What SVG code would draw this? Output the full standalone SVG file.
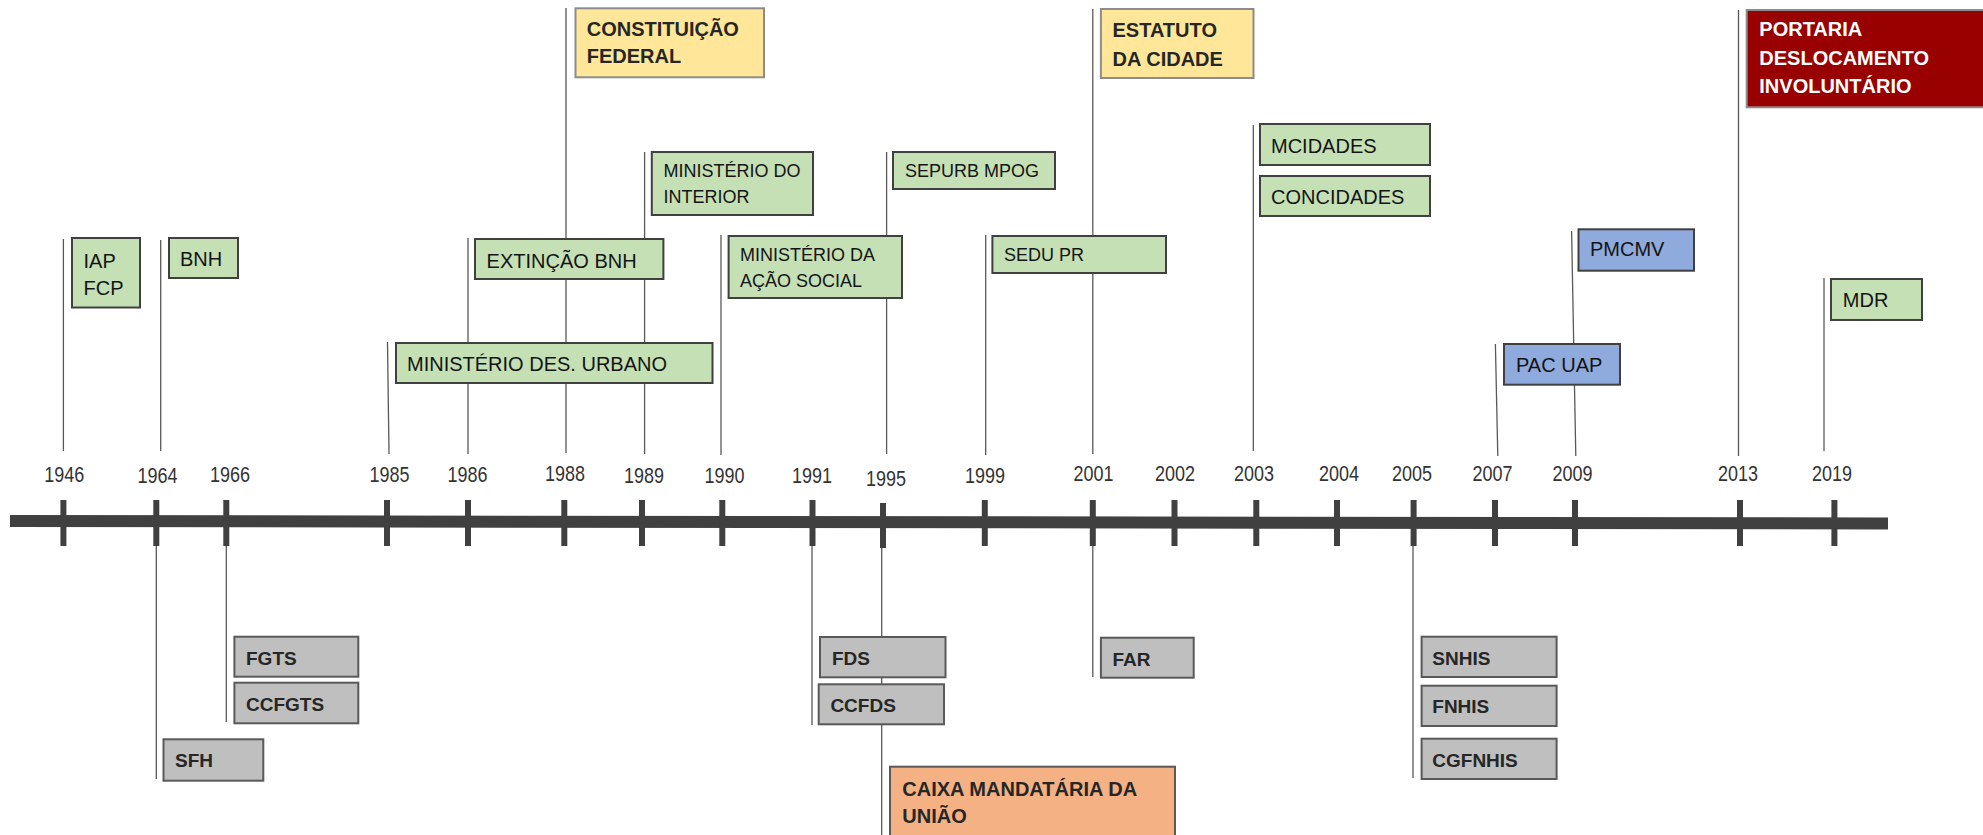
<svg xmlns="http://www.w3.org/2000/svg" width="1983" height="835" viewBox="0 0 1983 835">
<style>
.g{fill:#C5E0B4;stroke:#404040;stroke-width:2}
.b{fill:#8FAADC;stroke:#404040;stroke-width:2}
.y{fill:#FFE699;stroke:#8c8c8c;stroke-width:2}
.r{fill:#990000;stroke:#8c8c8c;stroke-width:2}
.k{fill:#BFBFBF;stroke:#595959;stroke-width:2}
.o{fill:#F4B183;stroke:#595959;stroke-width:2}
text{font-family:"Liberation Sans",Arial,sans-serif}
.t{font-size:20px;fill:#141414}
.ts{font-size:18px;fill:#141414}
.tb{font-size:20px;font-weight:bold;fill:#262626}
.tg{font-size:19px;font-weight:bold;fill:#262626}
.tw{font-size:20px;font-weight:bold;fill:#ffffff}
.yr{font-size:22px;fill:#333333;text-anchor:middle}
.ln{stroke:#595959;stroke-width:1.3;fill:none}
.tick{stroke:#404040;stroke-width:6}
</style>
<g id="connectors">
<line class="ln" x1="63.4" y1="239" x2="63.4" y2="451"/>
<line class="ln" x1="160.7" y1="240" x2="160.7" y2="451"/>
<line class="ln" x1="387.5" y1="342" x2="389" y2="454"/>
<line class="ln" x1="468" y1="238" x2="468" y2="454"/>
<line class="ln" x1="566" y1="8" x2="566" y2="453"/>
<line class="ln" x1="644.6" y1="152" x2="644.6" y2="454"/>
<line class="ln" x1="721" y1="235" x2="721" y2="455"/>
<line class="ln" x1="886.6" y1="152" x2="886.6" y2="454"/>
<line class="ln" x1="985.7" y1="235" x2="985.7" y2="455"/>
<line class="ln" x1="1092.8" y1="9" x2="1092.8" y2="454"/>
<line class="ln" x1="1253.3" y1="125" x2="1253.3" y2="451"/>
<line class="ln" x1="1495.4" y1="344" x2="1497.8" y2="456"/>
<line class="ln" x1="1571.6" y1="231" x2="1575.8" y2="456"/>
<line class="ln" x1="1738.5" y1="10" x2="1738.5" y2="456"/>
<line class="ln" x1="1824" y1="278" x2="1824" y2="451"/>
<line class="ln" x1="156.3" y1="546" x2="156.3" y2="779"/>
<line class="ln" x1="226.3" y1="546" x2="226.3" y2="722"/>
<line class="ln" x1="812" y1="546" x2="812" y2="725"/>
<line class="ln" x1="881.7" y1="548" x2="881.7" y2="835"/>
<line class="ln" x1="1092.8" y1="546" x2="1092.8" y2="677"/>
<line class="ln" x1="1413" y1="546" x2="1413" y2="778"/>
</g>
<g id="axis">
<line x1="10" y1="521" x2="1888" y2="523.5" stroke="#404040" stroke-width="12"/>
<line class="tick" x1="63.4" y1="500" x2="63.4" y2="546"/>
<line class="tick" x1="156.3" y1="500" x2="156.3" y2="546"/>
<line class="tick" x1="226.3" y1="500" x2="226.3" y2="546"/>
<line class="tick" x1="387" y1="500" x2="387" y2="546"/>
<line class="tick" x1="468" y1="500" x2="468" y2="546"/>
<line class="tick" x1="564.3" y1="500" x2="564.3" y2="546"/>
<line class="tick" x1="642" y1="500" x2="642" y2="546"/>
<line class="tick" x1="722.3" y1="500" x2="722.3" y2="546"/>
<line class="tick" x1="812.5" y1="500" x2="812.5" y2="546"/>
<line class="tick" x1="883" y1="503" x2="883" y2="548"/>
<line class="tick" x1="984.8" y1="500" x2="984.8" y2="546"/>
<line class="tick" x1="1092.8" y1="500" x2="1092.8" y2="546"/>
<line class="tick" x1="1174.5" y1="500" x2="1174.5" y2="546"/>
<line class="tick" x1="1256.3" y1="500" x2="1256.3" y2="546"/>
<line class="tick" x1="1337" y1="500" x2="1337" y2="546"/>
<line class="tick" x1="1413.6" y1="500" x2="1413.6" y2="546"/>
<line class="tick" x1="1495" y1="500" x2="1495" y2="546"/>
<line class="tick" x1="1575" y1="500" x2="1575" y2="546"/>
<line class="tick" x1="1740" y1="500" x2="1740" y2="546"/>
<line class="tick" x1="1834.4" y1="500" x2="1834.4" y2="546"/>
</g>
<g id="years">
<text class="yr" x="64.3" y="482" textLength="40" lengthAdjust="spacingAndGlyphs">1946</text>
<text class="yr" x="157.6" y="483" textLength="40" lengthAdjust="spacingAndGlyphs">1964</text>
<text class="yr" x="230" y="482" textLength="40" lengthAdjust="spacingAndGlyphs">1966</text>
<text class="yr" x="389.5" y="482" textLength="40" lengthAdjust="spacingAndGlyphs">1985</text>
<text class="yr" x="467.5" y="482" textLength="40" lengthAdjust="spacingAndGlyphs">1986</text>
<text class="yr" x="565" y="481" textLength="40" lengthAdjust="spacingAndGlyphs">1988</text>
<text class="yr" x="644" y="483" textLength="40" lengthAdjust="spacingAndGlyphs">1989</text>
<text class="yr" x="724.6" y="483" textLength="40" lengthAdjust="spacingAndGlyphs">1990</text>
<text class="yr" x="812" y="483" textLength="40" lengthAdjust="spacingAndGlyphs">1991</text>
<text class="yr" x="886" y="486" textLength="40" lengthAdjust="spacingAndGlyphs">1995</text>
<text class="yr" x="985" y="483" textLength="40" lengthAdjust="spacingAndGlyphs">1999</text>
<text class="yr" x="1093.5" y="481" textLength="40" lengthAdjust="spacingAndGlyphs">2001</text>
<text class="yr" x="1175" y="481" textLength="40" lengthAdjust="spacingAndGlyphs">2002</text>
<text class="yr" x="1254" y="481" textLength="40" lengthAdjust="spacingAndGlyphs">2003</text>
<text class="yr" x="1339" y="481" textLength="40" lengthAdjust="spacingAndGlyphs">2004</text>
<text class="yr" x="1412" y="481" textLength="40" lengthAdjust="spacingAndGlyphs">2005</text>
<text class="yr" x="1492.6" y="481" textLength="40" lengthAdjust="spacingAndGlyphs">2007</text>
<text class="yr" x="1572.6" y="481" textLength="40" lengthAdjust="spacingAndGlyphs">2009</text>
<text class="yr" x="1738" y="481" textLength="40" lengthAdjust="spacingAndGlyphs">2013</text>
<text class="yr" x="1832" y="481" textLength="40" lengthAdjust="spacingAndGlyphs">2019</text>
</g>
<g id="n-iap"><rect class="g" x="72" y="238" width="68" height="69.5"/><text class="t" x="83.5" y="268">IAP</text><text class="t" x="83.5" y="295">FCP</text></g>
<g id="n-bnh"><rect class="g" x="169" y="238" width="69" height="40"/><text class="t" x="180" y="266">BNH</text></g>
<g id="n-extincao"><rect class="g" x="475" y="239" width="188.4" height="40"/><text class="t" x="486.6" y="268">EXTINÇÃO BNH</text></g>
<g id="n-mdu"><rect class="g" x="396" y="343" width="316.5" height="40"/><text class="t" x="407" y="371">MINISTÉRIO DES. URBANO</text></g>
<g id="n-minter"><rect class="g" x="651.8" y="152" width="161.2" height="63"/><text class="ts" x="663.4" y="177">MINISTÉRIO DO</text><text class="ts" x="663.4" y="203">INTERIOR</text></g>
<g id="n-mas"><rect class="g" x="728.6" y="236" width="173.4" height="62"/><text class="ts" x="740" y="261">MINISTÉRIO DA</text><text class="ts" x="740" y="287">AÇÃO SOCIAL</text></g>
<g id="n-sepurb"><rect class="g" x="893" y="152" width="162" height="37"/><text class="ts" x="905" y="177">SEPURB MPOG</text></g>
<g id="n-sedu"><rect class="g" x="992.4" y="236" width="173.6" height="37"/><text class="ts" x="1004" y="261">SEDU PR</text></g>
<g id="n-mcidades"><rect class="g" x="1260" y="124" width="170" height="41"/><text class="t" x="1271" y="153">MCIDADES</text></g>
<g id="n-concidades"><rect class="g" x="1260" y="176" width="170" height="40"/><text class="t" x="1271" y="204">CONCIDADES</text></g>
<g id="n-pmcmv"><rect class="b" x="1578.5" y="229.3" width="115.5" height="41.4"/><text class="t" x="1590" y="256">PMCMV</text></g>
<g id="n-pacuap"><rect class="b" x="1504" y="344" width="116" height="40.7"/><text class="t" x="1516" y="372">PAC UAP</text></g>
<g id="n-mdr"><rect class="g" x="1831" y="279" width="91" height="41"/><text class="t" x="1842.8" y="307">MDR</text></g>
<g id="n-constituicao"><rect class="y" x="575.5" y="8.3" width="188.5" height="69"/><text class="tb" x="586.7" y="35.7">CONSTITUIÇÃO</text><text class="tb" x="586.7" y="63.3">FEDERAL</text></g>
<g id="n-estatuto"><rect class="y" x="1100.9" y="9" width="152.6" height="69"/><text class="tb" x="1112.5" y="37">ESTATUTO</text><text class="tb" x="1112.5" y="66">DA CIDADE</text></g>
<g id="n-portaria"><rect class="r" x="1746.7" y="10" width="245" height="97.3"/><text class="tw" x="1759.3" y="36">PORTARIA</text><text class="tw" x="1759.3" y="65">DESLOCAMENTO</text><text class="tw" x="1759.3" y="93.3">INVOLUNTÁRIO</text></g>
<g id="n-fgts"><rect class="k" x="234.4" y="636.7" width="123.9" height="40"/><text class="tg" x="246" y="664.5">FGTS</text></g>
<g id="n-ccfgts"><rect class="k" x="234.4" y="682.7" width="123.9" height="40.6"/><text class="tg" x="246" y="710.7">CCFGTS</text></g>
<g id="n-sfh"><rect class="k" x="163.5" y="739.3" width="99.8" height="41.4"/><text class="tg" x="175" y="767.3">SFH</text></g>
<g id="n-fds"><rect class="k" x="820" y="637" width="125.5" height="40.3"/><text class="tg" x="832" y="665">FDS</text></g>
<g id="n-ccfds"><rect class="k" x="818.7" y="684.3" width="125.3" height="40"/><text class="tg" x="830.4" y="711.7">CCFDS</text></g>
<g id="n-far"><rect class="k" x="1100.9" y="637.7" width="92.8" height="40"/><text class="tg" x="1112.5" y="665.7">FAR</text></g>
<g id="n-snhis"><rect class="k" x="1421.6" y="636.7" width="135" height="40.3"/><text class="tg" x="1432.3" y="665">SNHIS</text></g>
<g id="n-fnhis"><rect class="k" x="1421.6" y="685.7" width="135" height="40.3"/><text class="tg" x="1432.3" y="713">FNHIS</text></g>
<g id="n-cgfnhis"><rect class="k" x="1421.6" y="738.7" width="135" height="40.3"/><text class="tg" x="1432.3" y="766.7">CGFNHIS</text></g>
<g id="n-caixa"><rect class="o" x="890" y="766.7" width="285" height="80"/><text class="tb" x="902.3" y="796">CAIXA MANDATÁRIA DA</text><text class="tb" x="902.3" y="822.7">UNIÃO</text></g>
</svg>
